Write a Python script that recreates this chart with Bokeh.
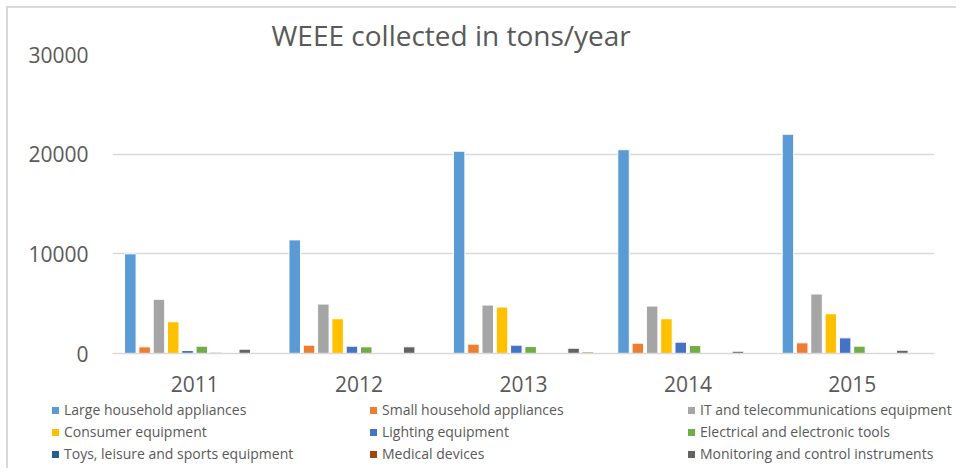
from bokeh.plotting import figure
from bokeh.models import ColumnDataSource, FixedTicker, Legend, LegendItem, Range1d
from bokeh.transform import dodge
from bokeh.embed import file_html
from bokeh.resources import INLINE

years = ["2011", "2012", "2013", "2014", "2015"]

large_household = [10000, 11400, 20300, 20450, 22000]
small_household = [665, 840, 940, 1040, 1070]
it_telecom = [5440, 4960, 4860, 4760, 5970]
consumer = [3180, 3490, 4660, 3490, 3990]
lighting = [300, 735, 840, 1140, 1570]
tools = [735, 670, 700, 800, 735]
toys = [120, 0, 100, 0, 100]
medical = [0, 0, 0, 0, 0]
monitoring = [430, 670, 530, 230, 330]
dispensers = [100, 0, 150, 0, 0]

series_names = [
    "Large household appliances",
    "Small household appliances",
    "IT and telecommunications equipment",
    "Consumer equipment",
    "Lighting equipment",
    "Electrical and electronic tools",
    "Toys, leisure and sports equipment",
    "Medical devices",
    "Monitoring and control instruments",
    "Automatic dispensers",
]
series_values = [large_household, small_household, it_telecom, consumer, lighting,
                 tools, toys, medical, monitoring, dispensers]
colors = ["#5B9BD5", "#ED7D31", "#A5A5A5", "#FFC000", "#4472C4",
          "#70AD47", "#255E91", "#9E480E", "#636363", "#997300"]
y_ticks = [0, 10000, 20000, 30000]

FONT = "Open Sans"
TXT = "#595959"
GRID = "#D9D9D9"

data = {"year": years}
keys = []
for i, vals in enumerate(series_values):
    k = f"s{i}"
    keys.append(k)
    data[k] = vals
source = ColumnDataSource(data)

# ---- main chart ----
p = figure(x_range=years, y_range=(0, 30000), width=950, height=397,
           output_backend="svg", toolbar_location=None,
           min_border_left=104, min_border_right=24, min_border_top=46,
           min_border_bottom=52)
p.styles = {"margin-left": "6px", "margin-top": "6px",
            "border-left": "2px solid #D9D9D9", "border-top": "2px solid #D9D9D9"}

p.title.text = "WEEE collected in tons/year"
p.title.text_font = FONT
p.title.text_font_size = "28px"
p.title.text_font_style = "normal"
p.title.text_color = TXT
p.title.align = "left"
p.title.offset = 159
p.title.standoff = 2

pitch = 0.087
renderers = []
for i, k in enumerate(keys):
    r = p.vbar(x=dodge("year", (i - 4.5) * pitch, range=p.x_range), top=k,
               width=0.07, source=source, fill_color=colors[i],
               line_color="white", line_width=1)
    renderers.append(r)

p.outline_line_color = None
p.background_fill_color = "white"
p.border_fill_color = "white"

p.xgrid.grid_line_color = None
p.ygrid.grid_line_color = GRID
p.ygrid.grid_line_width = 1.5
p.yaxis.ticker = FixedTicker(ticks=y_ticks)
p.yaxis.axis_line_color = None
p.yaxis.major_tick_line_color = None
p.yaxis.minor_tick_line_color = None
p.yaxis.major_tick_out = 0
p.yaxis.major_label_standoff = 24
p.yaxis.major_label_text_font = FONT
p.yaxis.major_label_text_font_size = "21px"
p.yaxis.major_label_text_color = TXT

p.xaxis.axis_line_color = GRID
p.xaxis.axis_line_width = 1.5
p.xaxis.major_tick_line_color = None
p.xaxis.minor_tick_line_color = None
p.xaxis.major_tick_out = 0
p.xaxis.major_label_standoff = 22
p.xaxis.major_label_text_font = FONT
p.xaxis.major_label_text_font_size = "21px"
p.xaxis.major_label_text_color = TXT

# ---- legend strip: same series (hidden), only the legend shows ----
LEG_H = 74
q = figure(width=950, height=LEG_H, output_backend="svg", toolbar_location=None,
           x_range=years, y_range=Range1d(-2, -1),
           x_axis_location=None, y_axis_location=None,
           min_border=0, min_border_left=0, min_border_right=0,
           min_border_top=0, min_border_bottom=0)
q.styles = {"margin-left": "6px", "margin-top": "-9px",
            "border-left": "2px solid #D9D9D9"}
q.grid.visible = False
q.outline_line_color = None
q.background_fill_alpha = 0
q.border_fill_alpha = 0

leg_renderers = []
for i in range(9):
    r = q.vbar(x="year", top=keys[i], source=source, width=0.07,
               fill_color=colors[i], line_color="white", line_width=1)
    r.visible = False
    leg_renderers.append(r)

row_h = 22
top0 = 4.5
for row in range(3):
    idx = [row * 3 + c for c in range(3)]
    items = [LegendItem(label=series_names[i], renderers=[leg_renderers[i]]) for i in idx]
    vy = LEG_H - (top0 + row_h * (row + 1))
    leg = Legend(items=items, orientation="horizontal",
                 location=(42, vy), padding=0, margin=0, spacing=0,
                 glyph_width=10, glyph_height=10, label_standoff=4,
                 label_width=304, label_height=row_h,
                 label_text_font=FONT, label_text_font_size="14px",
                 label_text_color=TXT, border_line_color=None,
                 background_fill_alpha=0, inactive_fill_alpha=0)
    q.add_layout(leg, "center")

open("out.html", "w").write(file_html([p, q], INLINE))
